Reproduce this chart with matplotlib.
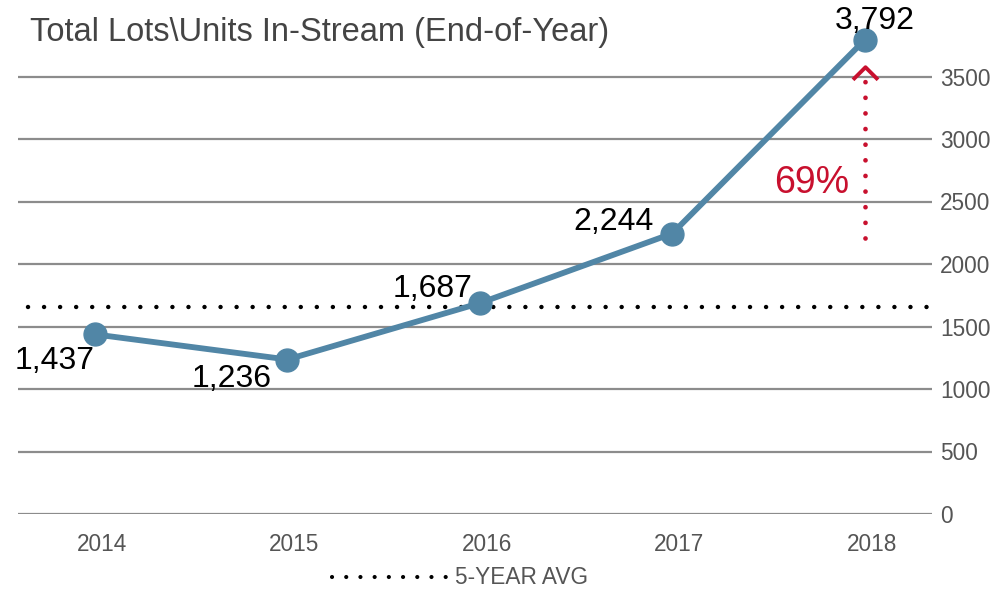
import matplotlib
matplotlib.use("Agg")
import matplotlib.pyplot as plt
import matplotlib.transforms as mtransforms
from matplotlib.path import Path
from matplotlib.lines import Line2D

# data
years = ["2014", "2015", "2016", "2017", "2018"]
lots = [1437, 1236, 1687, 2244, 3792]
five_year_avg = 1660
yticks = [0, 500, 1000, 1500, 2000, 2500, 3000, 3500]

line_color = "#5186a6"
red = "#c8102e"
grid_color = "#8c8c8c"
plt.rcParams["font.family"] = ["Liberation Sans", "DejaVu Sans"]

fig = plt.figure(figsize=(9.94, 5.91), dpi=100)
ax = fig.add_axes([18 / 994, 77 / 591, 914 / 994, 487.5 / 591])

x = list(range(len(years)))
ax.set_xlim(-0.4, 4.35)
ax.set_ylim(0, 3900)

for v in yticks:
    ax.axhline(v, color=grid_color, lw=1.6, zorder=0)

# 5 year average
ax.plot([-0.35, 4.37], [five_year_avg, five_year_avg], color="black", lw=3.2,
        linestyle=(0, (0.01, 3.6)), dash_capstyle="round", clip_on=False, zorder=1)

ax.plot(x, lots, color=line_color, lw=4.2, marker="o", markersize=16.5, zorder=3,
        solid_capstyle="round")

# value labels
offsets = [(-29, -19), (-40, -14), (-34, 10), (-42, 8), (7, 14)]
for xi, v, off in zip(x, lots, offsets):
    ax.annotate(f"{v:,}", (xi, v), xytext=off, textcoords="offset points",
                ha="center", va="center", fontsize=23, color="black", zorder=4)

# growth arrow 2017 -> 2018
growth = (lots[4] - lots[3]) / lots[3]
ax.plot([x[4], x[4]], [lots[3] - 35, lots[4] - 320], color=red, lw=3.4,
        linestyle=(0, (0.01, 3.3)), dash_capstyle="round", zorder=2)
chevron = Path([(-1, -0.5), (0, 0.5), (1, -0.5)],
               [Path.MOVETO, Path.LINETO, Path.LINETO])
ax.plot([x[4]], [lots[4] - 262], marker=chevron, markersize=18,
        markerfacecolor="none", markeredgecolor=red, markeredgewidth=2.8,
        linestyle="none", zorder=2)
ax.annotate(f"{growth:.0%}", (x[4], (lots[3] + lots[4]) / 2), xytext=(-38, -33),
            textcoords="offset points", ha="center", va="center",
            fontsize=27, color=red)

ax.set_xticks(x)
ax.set_xticklabels(years)
ax.set_yticks(yticks)
ax.yaxis.tick_right()
ax.tick_params(axis="both", length=0, labelsize=16.3, labelcolor="#555555")
ax.tick_params(axis="x", pad=14)
ax.tick_params(axis="y", pad=6)
shift = mtransforms.ScaledTranslation(5 / 72, 0, fig.dpi_scale_trans)
for lbl in ax.get_xticklabels():
    lbl.set_transform(lbl.get_transform() + shift)
for s in ax.spines.values():
    s.set_visible(False)

fig.text(30 / 994, 1 - 33 / 591, "Total Lots\\Units In-Stream (End-of-Year)",
         fontsize=23.5, color="#444444", va="center", ha="left")

handle = Line2D([], [], color="black", lw=3.0, linestyle=(0, (0.01, 3.4)),
                dash_capstyle="round")
fig.legend([handle], ["5-YEAR AVG"], loc="center", bbox_to_anchor=(460 / 994, 1 - 578 / 591),
           frameon=False, fontsize=16.3, labelcolor="#555555", handlelength=5.6,
           handletextpad=-0.15)

fig.savefig("out.png", dpi=100)
